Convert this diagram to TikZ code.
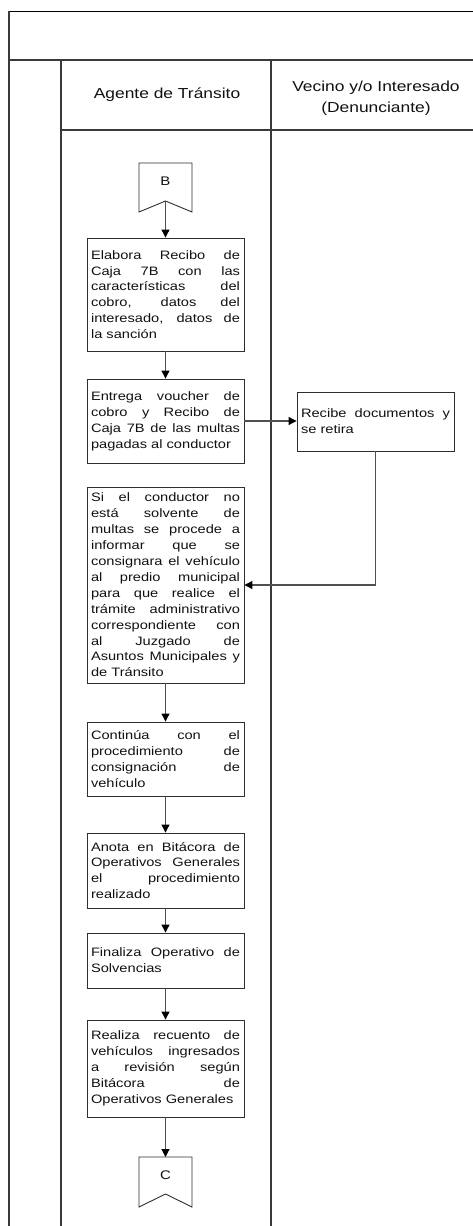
\documentclass[tikz,border=0pt]{standalone}
\usepackage{fontspec}
\setmainfont{Liberation Sans}[FakeStretch=1.2]
\usetikzlibrary{arrows.meta,calc}
\definecolor{framecol}{HTML}{3A3A3A}
\definecolor{boxcol}{HTML}{2E2E2E}
\definecolor{txtcol}{HTML}{111111}
\definecolor{flowcol}{HTML}{505050}
\newcommand\bodyfnt{\fontsize{12.2}{15.9}\selectfont\hyphenpenalty=10000 \tolerance=10000 }
\newcommand\headfnt{\fontsize{14.5}{20.5}\selectfont}
\tikzset{
  frameline/.style={draw=framecol, line width=1.3pt},
  thinframe/.style={draw=black, line width=0.8pt},
  procbox/.style={draw=boxcol, line width=0.9pt, minimum width=157pt, text width=149pt,
    inner xsep=4pt, inner ysep=0pt, align=justify, font=\bodyfnt, text=txtcol},
  headtxt/.style={font=\headfnt, text=txtcol, align=center},
  conlabel/.style={font=\fontsize{12.5}{14}\selectfont, text=txtcol, inner sep=0pt},
  conshape/.style={draw=boxcol, line width=0.9pt},
  flow/.style={draw=flowcol, line width=1.1pt, -{Triangle[length=8pt,width=8pt,color=black]}},
}
\begin{document}
\begin{tikzpicture}[x=1pt,y=-1pt]
\useasboundingbox (0,0) rectangle (473,1226);
% frame
\draw[thinframe] (9,11) -- (473,11);
\draw[frameline] (9,11) -- (9,1226);
\draw[frameline] (9,60) -- (473,60);
\draw[frameline] (61,60) -- (61,1226);
\draw[frameline] (271,60) -- (271,1226);
\draw[frameline] (61,130) -- (473,130);
% headers
\node[headtxt] (hagente) at (167,95) {Agente de Tránsito};
\node[headtxt] (hvecino) at (376,98) {Vecino y/o Interesado\\(Denunciante)};
% connector B
\draw[conshape] (139,163) -- (192,163) -- (192,212) -- (165.5,201) -- (139,212) -- cycle;
\coordinate (Bn) at (165.5,201);
\node[conlabel] (B) at (165.5,181) {B};
% process boxes
\node[procbox, minimum height=113pt] (b1) at (165.5,294.5)
 {Elabora Recibo de\linebreak Caja 7B con las\linebreak características del\linebreak cobro, datos del\linebreak interesado, datos de\linebreak la sanción};
\node[procbox, minimum height=84pt] (b2) at (165.5,421)
 {Entrega voucher de\linebreak cobro y Recibo de\linebreak Caja 7B de las multas\linebreak pagadas al conductor};
\node[procbox, minimum height=59pt] (b3) at (375.5,421.5)
 {Recibe documentos y\linebreak se retira};
\node[procbox, minimum height=196pt] (b4) at (165.5,585)
 {Si el conductor no\linebreak está solvente de\linebreak multas se procede a\linebreak informar que se\linebreak consignara el vehículo\linebreak al predio municipal\linebreak para que realice el\linebreak trámite administrativo\linebreak correspondiente con\linebreak al Juzgado de\linebreak Asuntos Municipales y\linebreak de Tránsito};
\node[procbox, minimum height=74pt] (b5) at (165.5,759)
 {Continúa con el\linebreak procedimiento de\linebreak consignación de\linebreak vehículo};
\node[procbox, minimum height=75pt] (b6) at (165.5,870.5)
 {Anota en Bitácora de\linebreak Operativos Generales\linebreak el procedimiento\linebreak realizado};
\node[procbox, minimum height=55pt] (b7) at (165.5,960.5)
 {Finaliza Operativo de\linebreak Solvencias};
\node[procbox, minimum height=97pt] (b8) at (165.5,1068.5)
 {Realiza recuento de\linebreak vehículos ingresados\linebreak a revisión según\linebreak Bitácora de\linebreak Operativos Generales};
% connector C
\draw[conshape] (139,1157) -- (192,1157) -- (192,1207) -- (165.5,1194) -- (139,1207) -- cycle;
\coordinate (Ct) at (165.5,1157);
\node[conlabel] (C) at (165.5,1175) {C};
% flows
\draw[flow] (Bn) -- (b1.north);
\draw[flow] (b1.south) -- (b2.north);
\draw[flow] (b2.east) -- (b2.east -| b3.west);
\draw[flow] (b3.south) |- (b4.east);
\draw[flow] (b4.south) -- (b5.north);
\draw[flow] (b5.south) -- (b6.north);
\draw[flow] (b6.south) -- (b7.north);
\draw[flow] (b7.south) -- (b8.north);
\draw[flow] (b8.south) -- (Ct);
\end{tikzpicture}
\end{document}
